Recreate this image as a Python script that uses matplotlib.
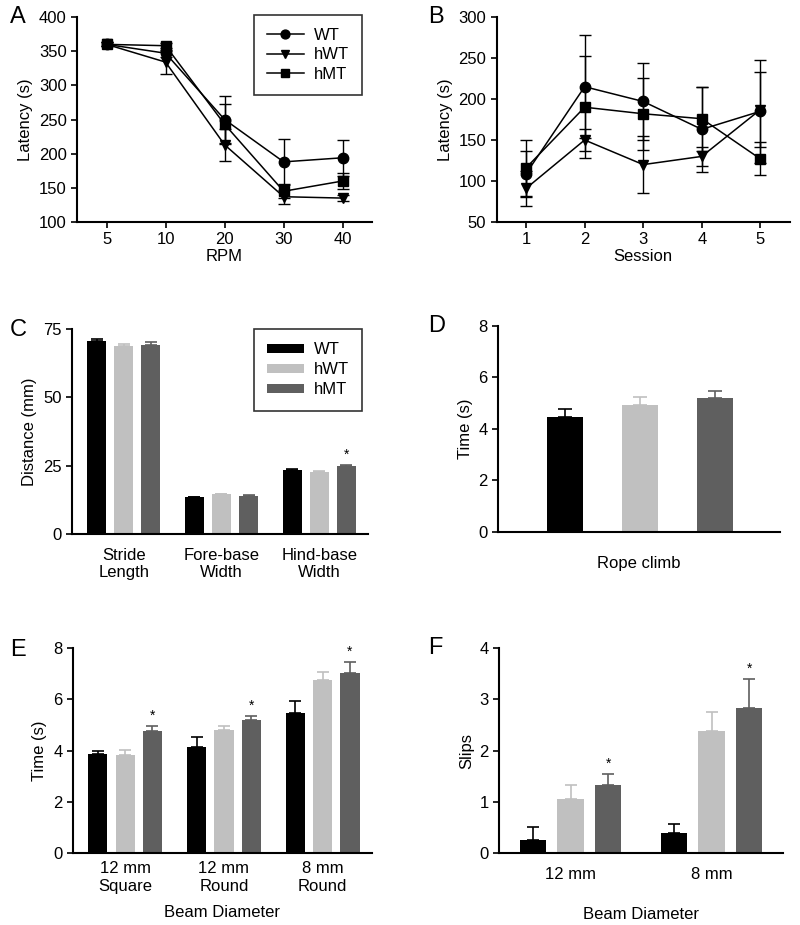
import numpy as np
import matplotlib
matplotlib.use("Agg")
import matplotlib.pyplot as plt

plt.rcParams['font.family'] = ['Liberation Sans', 'DejaVu Sans']
plt.rcParams['font.size'] = 12

groups = ["WT", "hWT", "hMT"]
colors = ["black", "#c0c0c0", "#5f5f5f"]
markers = ["o", "v", "s"]

# A: rotarod accelerating speeds
rpm = ["5", "10", "20", "30", "40"]
rpm_mean = {"WT": [360, 347, 250, 188, 194],
            "hWT": [360, 334, 213, 137, 135],
            "hMT": [360, 358, 243, 145, 160]}
rpm_err = {"WT": [3, 5, 35, 34, 26],
           "hWT": [3, 17, 23, 10, 4],
           "hMT": [3, 4, 29, 10, 11]}

# B: sessions
session = ["1", "2", "3", "4", "5"]
ses_mean = {"WT": [109, 215, 197, 163, 185],
            "hWT": [91, 150, 120, 130, 187],
            "hMT": [116, 190, 182, 176, 127]}
ses_err = {"WT": [28, 63, 47, 52, 63],
           "hWT": [21, 14, 35, 12, 46],
           "hMT": [34, 62, 44, 39, 20]}

# C: gait
gait_cats = ["Stride\nLength", "Fore-base\nWidth", "Hind-base\nWidth"]
gait_mean = {"WT": [70.6, 13.4, 23.4],
             "hWT": [68.8, 14.5, 22.8],
             "hMT": [69.3, 13.8, 24.7]}
gait_err = {"WT": [0.8, 0.3, 0.4],
            "hWT": [0.6, 0.3, 0.4],
            "hMT": [0.8, 0.3, 0.5]}
gait_star = [(2, 2)]

# D: rope climb
rope_mean = [4.47, 4.95, 5.19]
rope_err = [0.30, 0.30, 0.28]

# E: beam time
beam_cats = ["12 mm\nSquare", "12 mm\nRound", "8 mm\nRound"]
beam_mean = {"WT": [3.86, 4.14, 5.46],
             "hWT": [3.84, 4.81, 6.76],
             "hMT": [4.77, 5.18, 7.02]}
beam_err = {"WT": [0.11, 0.38, 0.48],
            "hWT": [0.18, 0.15, 0.30],
            "hMT": [0.19, 0.18, 0.42]}
beam_star = [(0, 2), (1, 2), (2, 2)]

# F: slips
slip_cats = ["12 mm", "8 mm"]
slip_mean = {"WT": [0.26, 0.39],
             "hWT": [1.06, 2.39],
             "hMT": [1.32, 2.83]}
slip_err = {"WT": [0.25, 0.18],
            "hWT": [0.27, 0.37],
            "hMT": [0.22, 0.57]}
slip_star = [(0, 2), (1, 2)]

fig = plt.figure(figsize=(8, 9.25), dpi=100)
axA = fig.add_axes([0.09625, 0.760, 0.369, 0.2216])
axB = fig.add_axes([0.621, 0.760, 0.366, 0.2216])
axC = fig.add_axes([0.090, 0.4227, 0.370, 0.2216])
axD = fig.add_axes([0.6225, 0.4249, 0.3525, 0.2227])
axE = fig.add_axes([0.091, 0.0778, 0.374, 0.2216])
axF = fig.add_axes([0.624, 0.0778, 0.355, 0.2216])


def style(ax, xticks=True):
    for s in ["top", "right"]:
        ax.spines[s].set_visible(False)
    for s in ["left", "bottom"]:
        ax.spines[s].set_linewidth(1.5)
    ax.tick_params(axis="y", direction="out", length=4, width=1.2)
    if xticks:
        ax.tick_params(axis="x", direction="out", length=4, width=1.2)
    else:
        ax.tick_params(axis="x", length=0, pad=6)


def lines(ax, cats, mean, err):
    x = np.arange(1, len(cats) + 1)
    for g, m in zip(groups, markers):
        ax.errorbar(x, mean[g], yerr=err[g], fmt="none", ecolor="black",
                    elinewidth=1.0, capsize=4, capthick=1.0)
        ax.plot(x, mean[g], color="black", marker=m, ms=7.5, lw=1.1, label=g)
    ax.set_xticks(x)
    ax.set_xticklabels(cats)
    ax.set_xlim(0.5, 5.5)
    style(ax)


def bars(ax, cats, mean, err, stars, width=0.195, off=0.277):
    x = np.arange(len(cats))
    for i, g in enumerate(groups):
        xi = x + (i - 1) * off
        ax.bar(xi, mean[g], width, color=colors[i], label=g, zorder=2)
        ax.errorbar(xi, mean[g], yerr=[np.zeros(len(cats)), err[g]], fmt="none",
                    ecolor=colors[i], elinewidth=1.2, capsize=4, capthick=1.2, zorder=1)
    ytop = ax.get_ylim()[1]
    for gi, si in stars:
        g = groups[si]
        ax.text(x[gi] + (si - 1) * off, mean[g][gi] + err[g][gi] + 0.05 * ytop, "*",
                ha="center", va="center", fontsize=10)
    ax.set_xticks(x)
    ax.set_xticklabels(cats)
    style(ax, xticks=False)


# A
lines(axA, rpm, rpm_mean, rpm_err)
axA.set_ylim(100, 400)
axA.set_yticks(range(100, 401, 50))
axA.set_xlabel("RPM", labelpad=1)
axA.set_ylabel("Latency (s)")
leg = axA.legend(loc="upper right", frameon=True, fancybox=False, edgecolor="black",
                 handlelength=2.2, handletextpad=0.6, borderpad=0.8, labelspacing=0.25,
                 markerscale=0.85, borderaxespad=0, bbox_to_anchor=(0.966, 1.01))
leg.get_frame().set_linewidth(1.2)

# B
lines(axB, session, ses_mean, ses_err)
axB.set_ylim(50, 300)
axB.set_yticks(range(50, 301, 50))
axB.set_xlabel("Session", labelpad=1)
axB.set_ylabel("Latency (s)")

# C
axC.set_ylim(0, 75)
axC.set_yticks([0, 25, 50, 75])
bars(axC, gait_cats, gait_mean, gait_err, gait_star)
axC.set_xlim(-0.53, 2.5)
axC.tick_params(axis="x", pad=10)
axC.set_ylabel("Distance (mm)")
leg = axC.legend(loc="upper right", frameon=True, fancybox=False, edgecolor="black",
                 handlelength=2.2, handleheight=0.5, handletextpad=0.6, borderpad=0.8,
                 labelspacing=0.3, borderaxespad=0, bbox_to_anchor=(0.98, 1.0))
leg.get_frame().set_linewidth(1.2)

# D
xd = np.arange(3)
axD.bar(xd, rope_mean, 0.48, color=colors, zorder=2)
for i in range(3):
    axD.errorbar(xd[i], rope_mean[i], yerr=[[0], [rope_err[i]]], fmt="none",
                 ecolor=colors[i], elinewidth=1.2, capsize=5, capthick=1.2, zorder=1)
axD.set_xlim(-0.89, 2.87)
axD.set_ylim(0, 8)
axD.set_yticks([0, 2, 4, 6, 8])
axD.set_xticks([])
axD.set_xlabel("Rope climb", labelpad=17)
axD.set_ylabel("Time (s)")
style(axD, xticks=False)

# E
axE.set_ylim(0, 8)
axE.set_yticks([0, 2, 4, 6, 8])
bars(axE, beam_cats, beam_mean, beam_err, beam_star)
axE.set_xlim(-0.53, 2.5)
axE.tick_params(axis="x", pad=6)
axE.set_xlabel("Beam Diameter", labelpad=8)
axE.set_ylabel("Time (s)")

# F
axF.set_ylim(0, 4)
axF.set_yticks([0, 1, 2, 3, 4])
bars(axF, slip_cats, slip_mean, slip_err, slip_star, width=0.188, off=0.266)
axF.set_xlim(-0.507, 1.507)
axF.tick_params(axis="x", pad=10)
axF.set_xlabel("Beam Diameter", labelpad=18)
axF.set_ylabel("Slips")

for ax, lab, x, y in [(axA, "A", 10, 17), (axB, "B", 428, 17), (axC, "C", 10, 330),
                      (axD, "D", 428, 326), (axE, "E", 10, 650), (axF, "F", 428, 648)]:
    fig.text(x / 800, 1 - y / 925, lab, fontsize=17, ha="left", va="center")

fig.savefig("out.png", dpi=100)
